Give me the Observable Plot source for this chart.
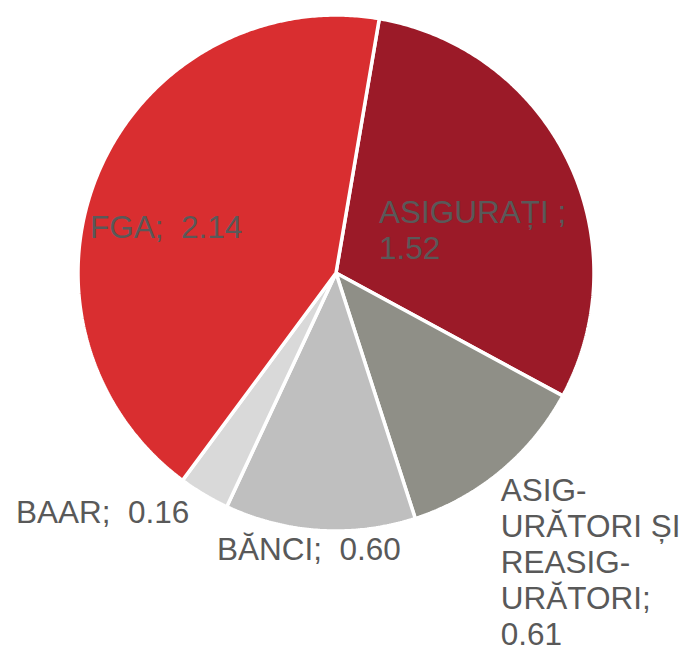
<!DOCTYPE html>
<html>
<head>
<meta charset="utf-8">
<script src="https://cdn.jsdelivr.net/npm/d3@7"></script>
<script src="https://cdn.jsdelivr.net/npm/@observablehq/plot@0.6"></script>
<style>
  html, body { margin: 0; padding: 0; background: #fff; }
  #chart svg { display: block; }
</style>
</head>
<body>
<div id="chart"></div>
<script>
// ---- data ----
const categories = ["ASIGURAȚI", "ASIGURĂTORI ȘI REASIGURĂTORI", "BĂNCI", "BAAR", "FGA"];
const values = [1.52, 0.61, 0.60, 0.16, 2.14];
const labels = ["ASIGURAȚI ;\n1.52", "ASIG-\nURĂTORI ȘI\nREASIG-\nURĂTORI;\n0.61", "BĂNCI;\u00a0 0.60", "BAAR;\u00a0 0.16", "FGA;\u00a0 2.14"];
const colors = ["#9b1a28", "#8f8f87", "#bfbfbf", "#d9d9d9", "#d92e30"];

// ---- layout (chart units = px, origin at pie centre, y up) ----
const W = 690, H = 649;
const cx = 335.5, cy = 272.5, R = 258;
const startDeg = 9.66;
const fontSize = 31.5;
// label anchor: left edge x, first-line baseline y
const labelPos = [
  [43, 53.2],
  [164.7, -225.2],
  [-119, -283.5],
  [-320, -246.8],
  [-246, 38.5]
];

const pie = d3.pie().sort(null).value(d => d.value)
  .startAngle(startDeg * Math.PI / 180)
  .endAngle(startDeg * Math.PI / 180 + 2 * Math.PI);
const rows = categories.map((c, i) => ({name: c, value: values[i], color: colors[i], label: labels[i]}));
const arcs = pie(rows);

function slicePoints(a) {
  const pts = [{x: 0, y: 0}];
  const n = Math.max(2, Math.ceil((a.endAngle - a.startAngle) / (Math.PI / 360)));
  for (let k = 0; k <= n; k++) {
    const t = a.startAngle + (a.endAngle - a.startAngle) * k / n;
    pts.push({x: R * Math.sin(t), y: R * Math.cos(t)});
  }
  pts.push({x: 0, y: 0});
  return pts;
}

const sliceMarks = arcs.map(a => Plot.line(slicePoints(a), {
  x: "x", y: "y", fill: a.data.color, stroke: "white", strokeWidth: 3.5, strokeLinejoin: "miter", curve: "linear"
}));

const labelRows = rows.map((r, i) => ({
  text: r.label, x: labelPos[i][0], y: labelPos[i][1] + 0.71 * fontSize
}));

const chart = Plot.plot({
  width: W, height: H,
  margin: 0, marginTop: 0, marginRight: 0, marginBottom: 0, marginLeft: 0,
  x: {domain: [-cx, W - cx], axis: null},
  y: {domain: [-(H - cy), cy], axis: null},
  style: {fontFamily: "'Liberation Sans', Arial, sans-serif", background: "white"},
  marks: [
    ...sliceMarks,
    Plot.text(labelRows, {
      x: "x", y: "y", text: "text", textAnchor: "start", lineAnchor: "top",
      lineHeight: 36 / fontSize, fontSize: fontSize, fill: "#595959"
    })
  ]
});
document.getElementById("chart").appendChild(chart);
</script>
</body>
</html>
